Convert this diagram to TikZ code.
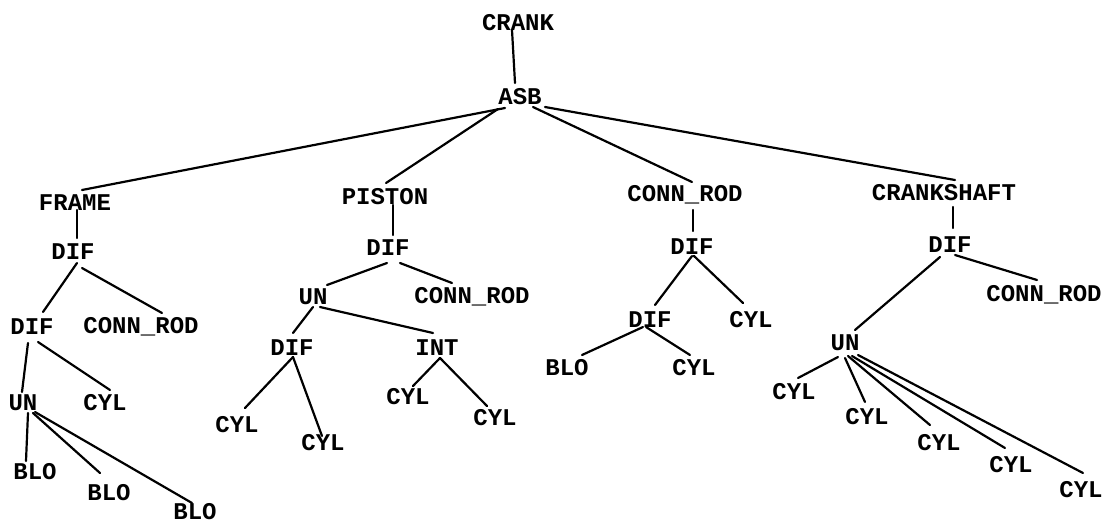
\documentclass[tikz,border=0pt]{standalone}
\usepackage{fontspec}
\setmonofont{Liberation Mono}
\begin{document}
\begin{tikzpicture}[x=1pt,y=-1pt,
  lbl/.style={font=\ttfamily\bfseries\fontsize{24}{24}\selectfont, inner sep=0pt, anchor=center},
  edge/.style={line width=2.2pt, line cap=round}]
\useasboundingbox (0,0) rectangle (1103,525);
\newcommand\lnk[6]{\draw[edge] ([shift={(#2,#3)}]#1.center) -- ([shift={(#5,#6)}]#4.center);}
% nodes
\node[lbl] (crank) at (518,23) {CRANK};
\node[lbl] (asb) at (520,97) {ASB};
\node[lbl] (frame) at (75,203) {FRAME};
\node[lbl] (fdif) at (73,252) {DIF};
\node[lbl] (fdif2) at (32,327) {DIF};
\node[lbl] (fconn) at (141,327) {CONN\_ROD};
\node[lbl] (fun) at (23,403) {UN};
\node[lbl] (fcyl) at (105,403) {CYL};
\node[lbl] (fblo1) at (35,472) {BLO};
\node[lbl] (fblo2) at (109,493) {BLO};
\node[lbl] (fblo3) at (195,512) {BLO};
\node[lbl] (piston) at (385,197) {PISTON};
\node[lbl] (pdif) at (388,248) {DIF};
\node[lbl] (pun) at (313,297) {UN};
\node[lbl] (pconn) at (472,297) {CONN\_ROD};
\node[lbl] (pdif2) at (292,348) {DIF};
\node[lbl] (pint) at (437,348) {INT};
\node[lbl] (pcyl1) at (237,425) {CYL};
\node[lbl] (pcyl2) at (323,443) {CYL};
\node[lbl] (pcyl3) at (408,397) {CYL};
\node[lbl] (pcyl4) at (495,418) {CYL};
\node[lbl] (conn) at (685,195) {CONN\_ROD};
\node[lbl] (cdif) at (692,247) {DIF};
\node[lbl] (cdif2) at (650,320) {DIF};
\node[lbl] (ccyl) at (751,320) {CYL};
\node[lbl] (cblo) at (567,368) {BLO};
\node[lbl] (ccyl2) at (694,368) {CYL};
\node[lbl] (crankshaft) at (944,193) {CRANKSHAFT};
\node[lbl] (sdif) at (950,245) {DIF};
\node[lbl] (sconn) at (1044,295) {CONN\_ROD};
\node[lbl] (sun) at (845,343) {UN};
\node[lbl] (scyl1) at (794,392) {CYL};
\node[lbl] (scyl2) at (867,417) {CYL};
\node[lbl] (scyl3) at (939,443) {CYL};
\node[lbl] (scyl4) at (1011,465) {CYL};
\node[lbl] (scyl5) at (1081,490) {CYL};
% connectors
\lnk{crank}{-6}{7}{asb}{-5}{-14}
\lnk{asb}{-15}{11}{frame}{7}{-13}
\lnk{asb}{-22}{12}{piston}{1}{-14}
\lnk{asb}{13}{10}{conn}{7}{-13}
\lnk{asb}{25}{10}{crankshaft}{11}{-13}
\lnk{frame}{2}{7}{fdif}{4}{-14}
\lnk{fdif}{4}{11}{fdif2}{11}{-15}
\lnk{fdif}{9}{16}{fconn}{21}{-14}
\lnk{fdif2}{-4}{16}{fun}{-1}{-11}
\lnk{fdif2}{6}{15}{fcyl}{5}{-13}
\lnk{fun}{5}{10}{fblo1}{-9}{-11}
\lnk{fun}{10}{10}{fblo2}{-9}{-20}
\lnk{fun}{12}{9}{fblo3}{-3}{-9}
\lnk{piston}{8}{8}{pdif}{5}{-13}
\lnk{pdif}{-1}{15}{pun}{14}{-12}
\lnk{pdif}{12}{15}{pconn}{-20}{-14}
\lnk{pun}{0}{10}{pdif2}{1}{-15}
\lnk{pun}{7}{10}{pint}{-4}{-15}
\lnk{pdif2}{1}{9}{pcyl1}{8}{-17}
\lnk{pdif2}{1}{9}{pcyl2}{-1}{-7}
\lnk{pint}{3}{10}{pcyl3}{5}{-11}
\lnk{pint}{3}{10}{pcyl4}{-8}{-12}
\lnk{conn}{8}{15}{cdif}{1}{-16}
\lnk{cdif}{0}{9}{cdif2}{5}{-15}
\lnk{cdif}{2}{9}{ccyl}{-8}{-17}
\lnk{cdif2}{-7}{7}{cblo}{15}{-13}
\lnk{cdif2}{-4}{7}{ccyl2}{-4}{-13}
\lnk{crankshaft}{9}{14}{sdif}{3}{-17}
\lnk{sdif}{5}{10}{sconn}{-7}{-15}
\lnk{sdif}{-10}{12}{sun}{10}{-13}
\lnk{sun}{-7}{14}{scyl1}{4}{-14}
\lnk{sun}{0}{15}{scyl2}{-2}{-15}
\lnk{sun}{3}{13}{scyl3}{-9}{-18}
\lnk{sun}{7}{13}{scyl4}{-6}{-17}
\lnk{sun}{13}{12}{scyl5}{2}{-17}
\end{tikzpicture}
\end{document}
